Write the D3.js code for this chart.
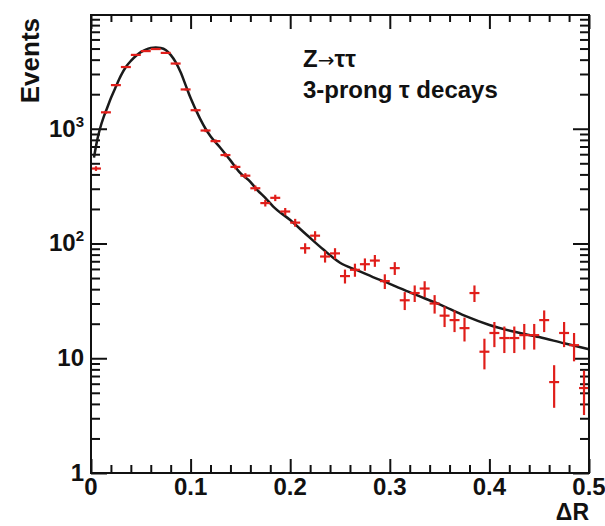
<!DOCTYPE html>
<html>
<head>
<meta charset="utf-8">
<script src="https://cdn.jsdelivr.net/npm/d3@7"></script>
<style>
  body { margin: 0; background: #fff; }
  text { font-family: "Liberation Sans", Arial, sans-serif; font-weight: bold; fill: #111; }
</style>
</head>
<body>
<div id="vis"></div>
<script>
// Z -> tau tau, 3-prong tau decays: Delta R distribution (log scale)

const FRAME_HEIGHT = 526;
const FRAME_WIDTH = 605;
const MARGINS = {left: 91, right: 16, top: 15, bottom: 53};

const VIS_HEIGHT = FRAME_HEIGHT - MARGINS.top - MARGINS.bottom;
const VIS_WIDTH = FRAME_WIDTH - MARGINS.left - MARGINS.right;

// bin centres (Delta R) and events per bin
const DR_BINS = [0.005, 0.015, 0.025, 0.035, 0.045, 0.055, 0.065, 0.075, 0.085, 0.095,
                 0.105, 0.115, 0.125, 0.135, 0.145, 0.155, 0.165, 0.175, 0.185, 0.195,
                 0.205, 0.215, 0.225, 0.235, 0.245, 0.255, 0.265, 0.275, 0.285, 0.295,
                 0.305, 0.315, 0.325, 0.335, 0.345, 0.355, 0.365, 0.375, 0.385, 0.395,
                 0.405, 0.415, 0.425, 0.435, 0.445, 0.455, 0.465, 0.475, 0.485, 0.495];
const EVENTS = [450, 1390, 2400, 3450, 4400, 4750, 4950, 4580, 3700, 2200,
                1450, 965, 780, 590, 465, 390, 303, 225, 250, 190,
                152, 91, 117, 77, 82, 52, 59, 66, 71, 47,
                61, 32, 37, 40.5, 30, 23.5, 21.5, 18.3, 37, 11.4,
                16.6, 15, 15, 15.9, 15.9, 21.5, 6.2, 16.6, 13, 5.5];
const ERRORS = [21, 37, 49, 59, 66, 69, 70, 68, 61, 47,
                38, 31, 28, 24, 22, 20, 17, 15, 16, 14,
                12, 9.5, 11, 8.8, 9, 7.2, 7.7, 8.1, 8.4, 6.9,
                7.8, 5.7, 6.1, 6.4, 5.5, 4.8, 4.6, 4.3, 6.1, 3.4,
                4.1, 3.9, 3.9, 4, 4, 4.6, 2.5, 4.1, 3.6, 2.3];
const HALF_BIN = 0.005;

// fitted curve
const FIT_DR = [0.003, 0.006, 0.009, 0.0125, 0.016, 0.02, 0.025, 0.03, 0.035, 0.04,
                0.045, 0.05, 0.055, 0.06, 0.065, 0.07, 0.075, 0.08, 0.085, 0.09,
                0.095, 0.1, 0.105, 0.11, 0.115, 0.12, 0.13, 0.14, 0.15, 0.16,
                0.167, 0.175, 0.183, 0.2, 0.217, 0.233, 0.25, 0.267, 0.283, 0.3,
                0.325, 0.35, 0.375, 0.4, 0.425, 0.45, 0.475, 0.5];
const FIT_EVENTS = [560, 780, 1000, 1250, 1500, 1850, 2330, 2900, 3450, 3900,
                    4300, 4650, 4900, 5050, 5100, 5050, 4850, 4400, 3800, 3100,
                    2400, 1850, 1480, 1200, 1000, 860, 680, 530, 410, 345,
                    292, 250, 210, 160, 118, 89, 68, 58.5, 51, 44.5,
                    36, 29.5, 23.5, 19.5, 17, 15.3, 13.5, 12];

const X_MAJOR = [0, 0.1, 0.2, 0.3, 0.4, 0.5];
const X_LABELS = ["0", "0.1", "0.2", "0.3", "0.4", "0.5"];
const Y_MAJOR = [1, 10, 100, 1000];
const Y_LABELS = [["1", ""], ["10", ""], ["10", "2"], ["10", "3"]];
const LEGEND_LINES = [["Z", "\u2192", "\u03c4\u03c4"], ["3-prong \u03c4 decays", "", ""]];

const RED = "#e01e1a";

const FRAME = d3.select("#vis")
    .append("svg")
    .attr("height", FRAME_HEIGHT)
    .attr("width", FRAME_WIDTH);

const PLOT = FRAME.append("g")
    .attr("transform", "translate(" + MARGINS.left + "," + MARGINS.top + ")");

// scales
const X_SCALE = d3.scaleLinear()
    .domain([0, 0.5])
    .range([0, VIS_WIDTH]);

const Y_SCALE = d3.scaleLog()
    .domain([1, 9800])
    .range([VIS_HEIGHT, 0]);

// minor tick positions
const X_MINOR = d3.range(1, 25).map(i => i * 0.02).filter(v => Math.abs(v * 10 - Math.round(v * 10)) > 1e-6);
const Y_MINOR = [];
Y_MAJOR.forEach(dec => {
    for (let k = 2; k <= 9; k++) {
        if (dec * k < 9800) Y_MINOR.push(dec * k);
    }
});

function tickAxis(axisFn, scale, values, size, transform) {
    const g = PLOT.append("g")
        .attr("transform", transform)
        .call(axisFn(scale).tickValues(values).tickSize(-size).tickFormat("").tickSizeOuter(0));
    g.select(".domain").remove();
    g.selectAll("line").attr("stroke", "#111").attr("stroke-width", 2);
}

// ticks on all four sides, pointing inward
tickAxis(d3.axisBottom, X_SCALE, X_MAJOR, 14, "translate(0," + VIS_HEIGHT + ")");
tickAxis(d3.axisBottom, X_SCALE, X_MINOR, 8, "translate(0," + VIS_HEIGHT + ")");
tickAxis(d3.axisTop, X_SCALE, X_MAJOR, 14, "translate(0,0)");
tickAxis(d3.axisTop, X_SCALE, X_MINOR, 7, "translate(0,0)");
tickAxis(d3.axisLeft, Y_SCALE, Y_MAJOR, 16, "translate(0,0)");
tickAxis(d3.axisLeft, Y_SCALE, Y_MINOR, 9, "translate(0,0)");
tickAxis(d3.axisRight, Y_SCALE, Y_MAJOR, 16, "translate(" + VIS_WIDTH + ",0)");
tickAxis(d3.axisRight, Y_SCALE, Y_MINOR, 9, "translate(" + VIS_WIDTH + ",0)");

// fit curve
const FIT_LINE = d3.line()
    .x((d, i) => X_SCALE(FIT_DR[i]))
    .y(d => Y_SCALE(d))
    .curve(d3.curveMonotoneX);

PLOT.append("path")
    .datum(FIT_EVENTS)
    .attr("d", FIT_LINE)
    .attr("fill", "none")
    .attr("stroke", "#1a1a1a")
    .attr("stroke-width", 2.5);

// data points with error bars
const POINTS = PLOT.selectAll(".pt")
    .data(EVENTS)
    .enter()
    .append("g")
    .attr("class", "pt");

POINTS.append("line")
    .attr("x1", (d, i) => X_SCALE(DR_BINS[i] - HALF_BIN))
    .attr("x2", (d, i) => X_SCALE(DR_BINS[i] + HALF_BIN))
    .attr("y1", d => Y_SCALE(d))
    .attr("y2", d => Y_SCALE(d))
    .attr("stroke", RED)
    .attr("stroke-width", 2.2);

POINTS.append("line")
    .attr("x1", (d, i) => X_SCALE(DR_BINS[i]))
    .attr("x2", (d, i) => X_SCALE(DR_BINS[i]))
    .attr("y1", (d, i) => Y_SCALE(d - ERRORS[i]))
    .attr("y2", (d, i) => Y_SCALE(d + ERRORS[i]))
    .attr("stroke", RED)
    .attr("stroke-width", 2.2);

// frame
PLOT.append("rect")
    .attr("x", 0)
    .attr("y", 0)
    .attr("width", VIS_WIDTH)
    .attr("height", VIS_HEIGHT)
    .attr("fill", "none")
    .attr("stroke", "#111")
    .attr("stroke-width", 2);

// tick labels
PLOT.selectAll(".xlab")
    .data(X_MAJOR)
    .enter()
    .append("text")
    .attr("x", d => X_SCALE(d))
    .attr("y", VIS_HEIGHT + 22)
    .attr("text-anchor", "middle")
    .attr("font-size", "24px")
    .text((d, i) => X_LABELS[i]);

const YLAB = PLOT.selectAll(".ylab")
    .data(Y_MAJOR)
    .enter()
    .append("text")
    .attr("x", -7)
    .attr("y", d => Y_SCALE(d) + 8)
    .attr("text-anchor", "end")
    .attr("font-size", "24px");

YLAB.append("tspan").text((d, i) => Y_LABELS[i][0]);
YLAB.append("tspan")
    .attr("font-size", "15px")
    .attr("dy", -10)
    .text((d, i) => Y_LABELS[i][1]);

// axis titles
PLOT.append("text")
    .attr("x", VIS_WIDTH)
    .attr("y", VIS_HEIGHT + 47)
    .attr("text-anchor", "end")
    .attr("font-size", "23px")
    .text("\u0394R");

FRAME.append("text")
    .attr("transform", "translate(39,18) rotate(-90)")
    .attr("text-anchor", "end")
    .attr("font-size", "26px")
    .text("Events");

// legend text
const LEG = PLOT.selectAll(".leg")
    .data(LEGEND_LINES)
    .enter()
    .append("text")
    .attr("x", 212)
    .attr("y", (d, i) => 52 + i * 31)
    .attr("font-size", "24px");

LEG.append("tspan").text(d => d[0]);
LEG.append("tspan")
    .attr("font-family", "'DejaVu Sans', sans-serif")
    .attr("font-weight", "normal")
    .attr("font-size", "20px")
    .text(d => d[1]);
LEG.append("tspan").text(d => d[2]);
</script>
</body>
</html>
